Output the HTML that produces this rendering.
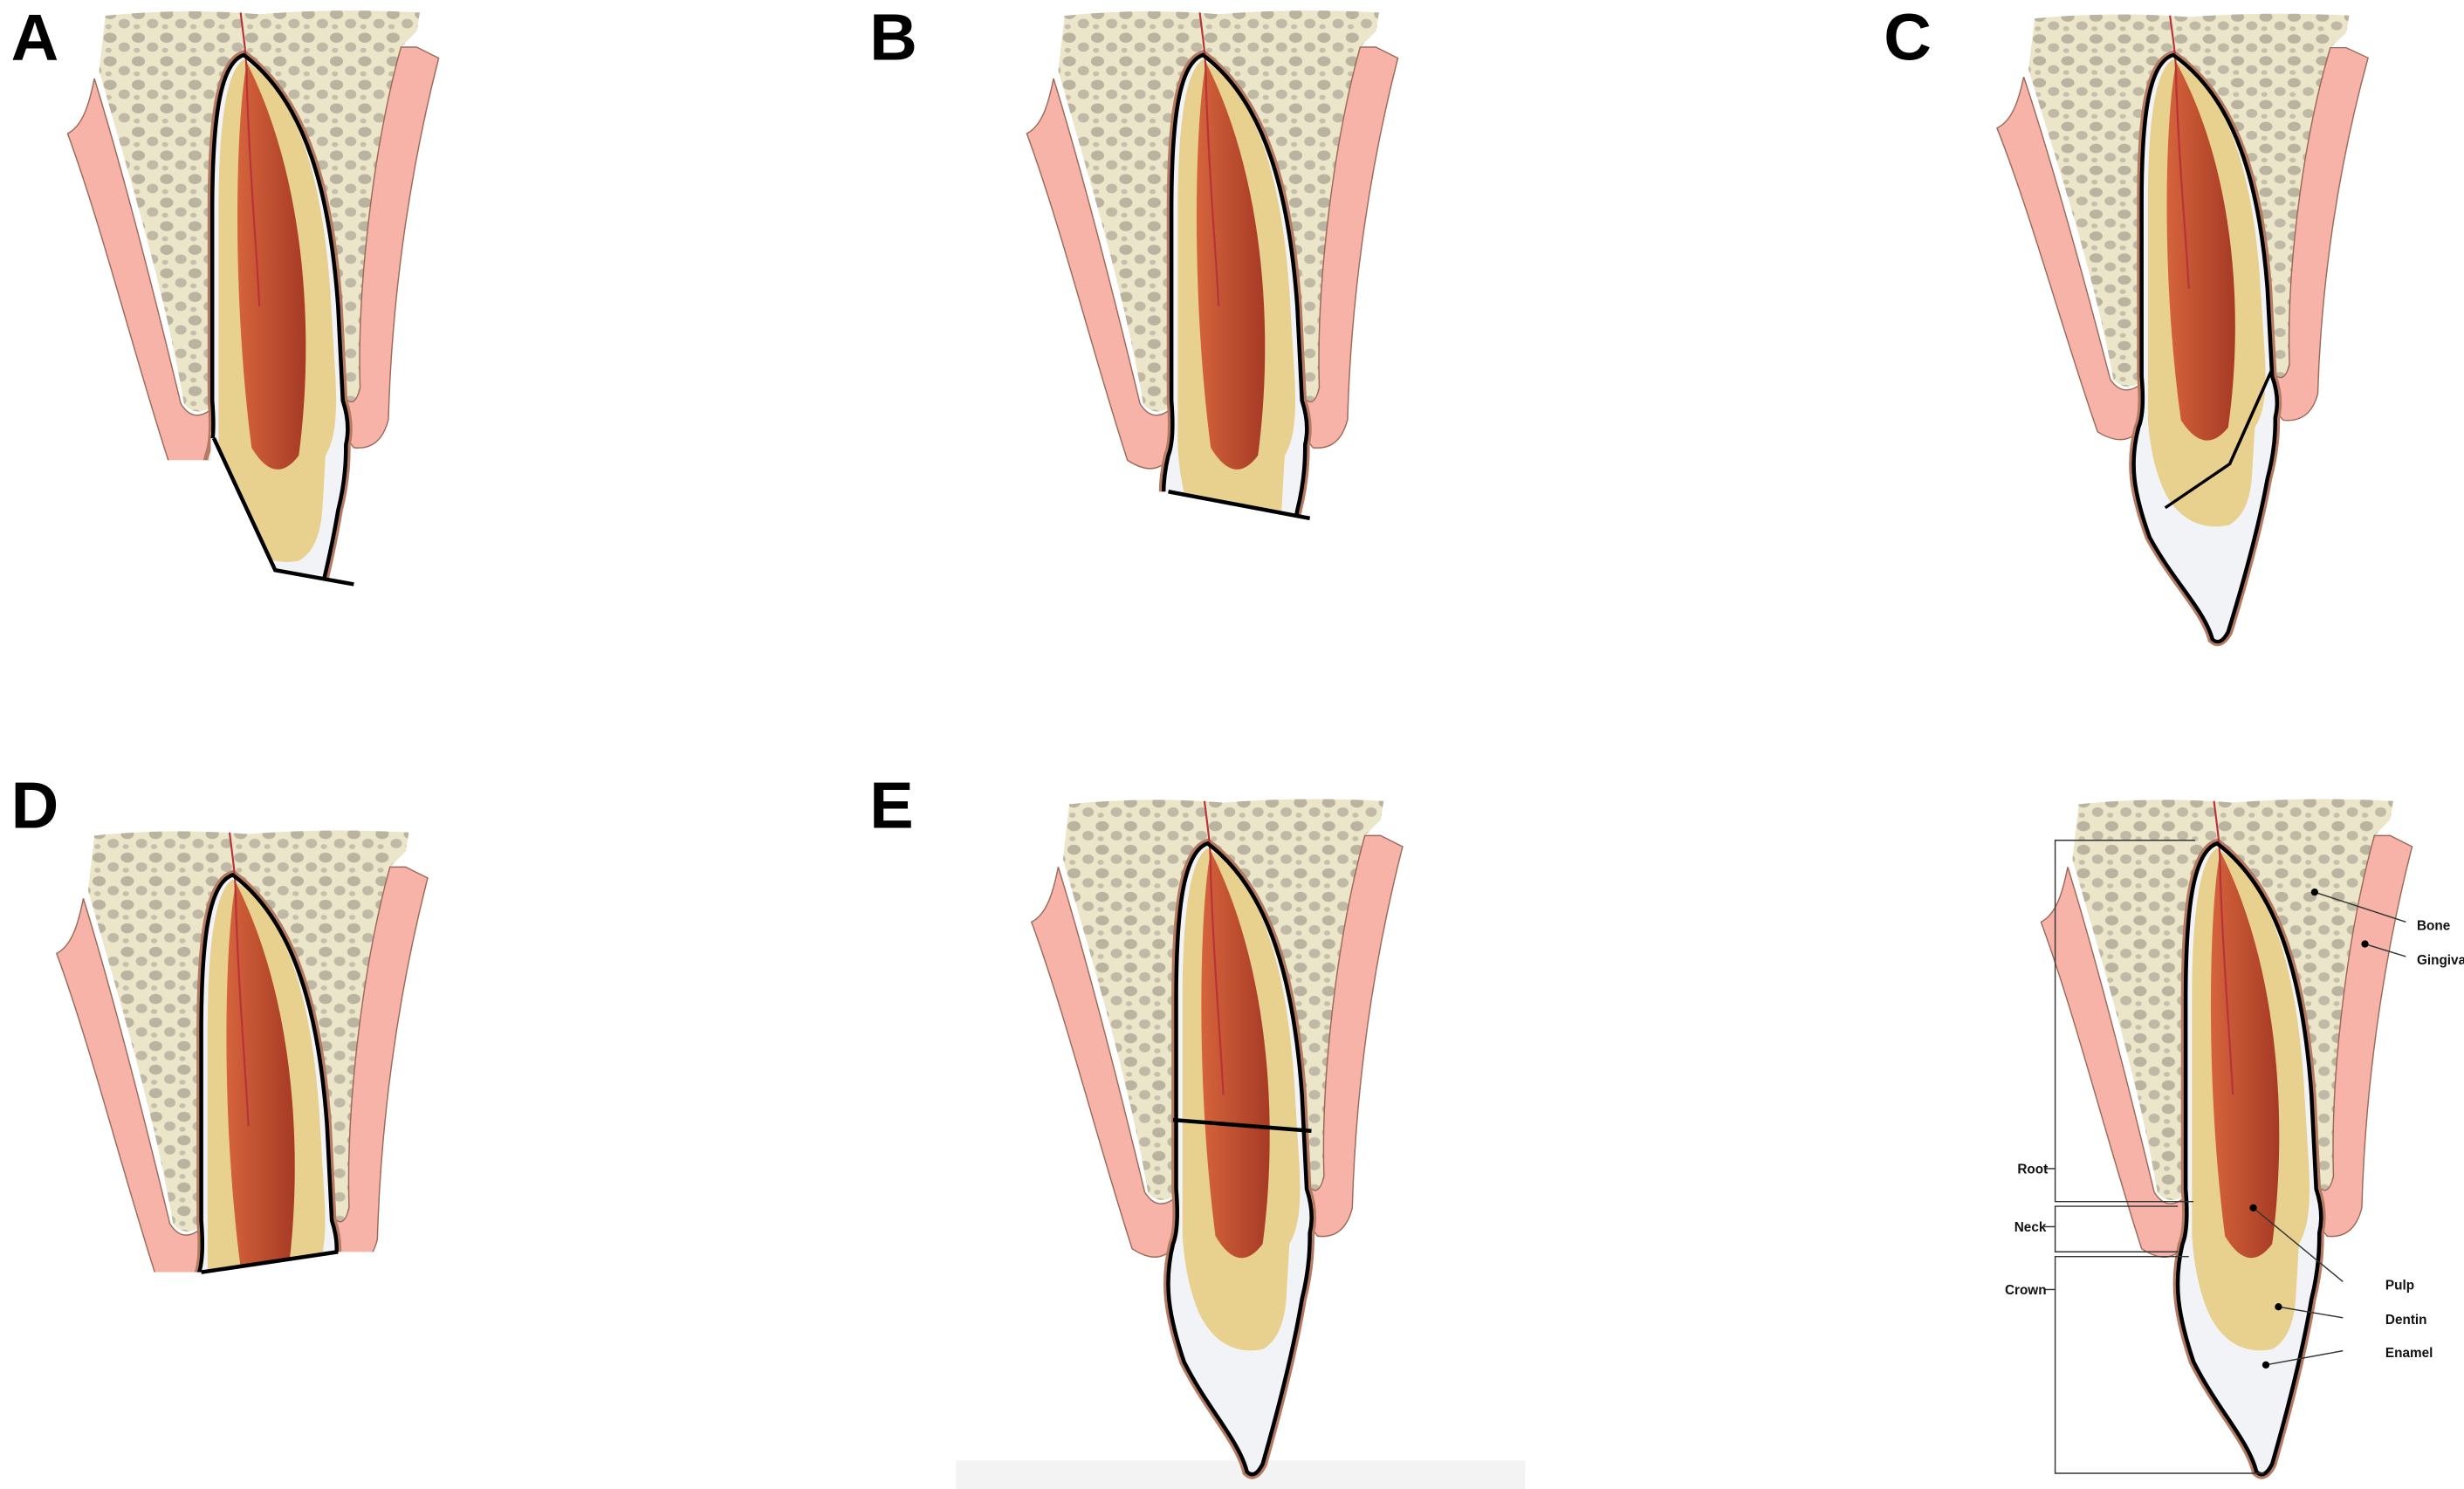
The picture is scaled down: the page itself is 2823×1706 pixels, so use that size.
<!DOCTYPE html>
<html><head><meta charset="utf-8"><style>
html,body{margin:0;padding:0;background:#fff;}
svg{display:block;}
text{font-family:"Liberation Sans",sans-serif;}
</style></head><body>
<svg width="2823" height="1706" viewBox="0 0 1567 948" preserveAspectRatio="none" xmlns="http://www.w3.org/2000/svg">
<defs>
<pattern id="dots" width="18" height="15" patternUnits="userSpaceOnUse">
<rect width="18" height="15" fill="#ebe6ca"/>
<ellipse cx="5" cy="4" rx="4.2" ry="3.2" fill="#bab3a0"/>
<ellipse cx="14" cy="10" rx="3.6" ry="3" fill="#c0b9a5"/>
<ellipse cx="4" cy="12" rx="2" ry="1.6" fill="#c6bfab"/>
</pattern>
<linearGradient id="pulpG" x1="0" x2="1">
<stop offset="0" stop-color="#d5643c"/><stop offset="1" stop-color="#a63a24"/>
</linearGradient>
<path id="outline" d="M0,0 C-15,5 -20,40 -20,100 L-20,220 Q-18,245 -22,255 C-28,280 -25,300 -15,330 C0,360 20,380 25,400 Q30,405 35,395 C45,360 55,320 60,290 C65,270 65,255 65,248 Q68,235 63,220 L60,160 C55,90 40,30 0,0 Z"/>
<g id="anat">
<path d="M-88,-25 Q-40,-30 10,-26 Q60,-30 112,-27 L110,-15 L100,-5 C82,60 72,150 74,212 Q70,228 58,222 L-18,222 Q-30,232 -38,222 C-50,150 -75,70 -92,10 Z" fill="url(#dots)"/>
<path d="M-112,50 C-102,45 -98,30 -95,15 C-75,80 -55,160 -40,222 Q-32,235 -20,225 L-20,255 Q-30,270 -48,258 C-70,190 -90,110 -112,50 Z" fill="#f7b3a8" stroke="#9a6a5a" stroke-width="0.8"/>
<path d="M110,-5 L124,2 C104,80 94,160 92,232 Q87,252 70,250 L62,240 L62,215 Q70,228 74,212 C72,150 82,60 100,-5 Z" fill="#f7b3a8" stroke="#9a6a5a" stroke-width="0.8"/>
<use href="#outline" fill="none" stroke="#b47a62" stroke-width="6"/>
<use href="#outline" fill="#f2f3f7"/>
<path d="M0,3 C-12,10 -16,50 -16,100 L-16,250 Q-14,280 -5,300 C5,320 20,325 35,322 Q48,315 50,290 L52,255 C58,245 60,230 58,200 L55,150 C50,80 35,25 0,3 Z" fill="#e8d08e"/>
<path d="M2,5 C-5,40 -8,150 5,250 Q20,275 35,255 C45,180 40,80 2,5 Z" fill="url(#pulpG)"/>
<path d="M-2,-27 C0,-10 2,0 2,20 C4,80 8,120 10,160" fill="none" stroke="#b8323a" stroke-width="1.2"/>
</g>
</defs>

<g font-weight="bold" font-size="42" fill="#000">
<text x="7" y="38">A</text><text x="553" y="38">B</text><text x="1198" y="38">C</text>
<text x="7" y="527">D</text><text x="553" y="527">E</text>
</g>

<!-- A -->
<clipPath id="cA"><polygon points="-200,-100 200,-100 200,337 70,337 20,328 -17,250 -19,240 -21,240 -21,258 -200,258"/></clipPath>
<clipPath id="cA2"><polygon points="-200,-100 200,-100 200,337 70,337 20,328 -19,244 -200,244"/></clipPath>
<g transform="translate(155,35)">
<g clip-path="url(#cA)"><use href="#anat"/></g>
<g clip-path="url(#cA2)"><use href="#outline" fill="none" stroke="#000" stroke-width="2.5"/></g>
<polyline points="-19,244 20,328 70,337" fill="none" stroke="#000" stroke-width="2.5"/>
</g>
<!-- B -->
<clipPath id="cB"><polygon points="-200,-100 200,-100 200,295 70,295 -20,278 -200,278"/></clipPath>
<g transform="translate(765,35)">
<g clip-path="url(#cB)"><use href="#anat"/><use href="#outline" fill="none" stroke="#000" stroke-width="2.5"/></g>
<line x1="-22" y1="278" x2="68" y2="295" stroke="#000" stroke-width="2.5"/>
</g>
<!-- C -->
<g transform="translate(1382,35) scale(1,0.93)">
<use href="#anat"/><use href="#outline" fill="none" stroke="#000" stroke-width="2.5"/>
<polyline points="-5,310 36,280 63,215" fill="none" stroke="#000" stroke-width="2"/>
</g>
<!-- D -->
<clipPath id="cD"><polygon points="-200,-100 200,-100 200,240 67,240 -18,253 -200,253"/></clipPath>
<g transform="translate(148,557)">
<g clip-path="url(#cD)"><use href="#anat"/><use href="#outline" fill="none" stroke="#000" stroke-width="2.5"/></g>
<line x1="-20" y1="253" x2="67" y2="240" stroke="#000" stroke-width="2.5"/>
</g>
<!-- E -->
<rect x="608" y="930" width="362" height="18" fill="#f3f3f3"/>
<g transform="translate(768,537)">
<use href="#anat"/><use href="#outline" fill="none" stroke="#000" stroke-width="2.5"/>
<line x1="-22" y1="176" x2="66" y2="183" stroke="#000" stroke-width="2.5"/>
</g>
<!-- F -->
<g transform="translate(1410,537)">
<use href="#anat"/><use href="#outline" fill="none" stroke="#000" stroke-width="2.5"/>
</g>
<g fill="none" stroke="#333" stroke-width="0.8">
<polyline points="1396,535 1307,535 1307,765 1395,765"/>
<polyline points="1385,768 1307,768 1307,797 1385,797"/>
<polyline points="1392,800 1307,800 1307,938 1440,938"/>
<line x1="1300" y1="744" x2="1307" y2="744"/>
<line x1="1300" y1="781" x2="1307" y2="781"/>
<line x1="1300" y1="821" x2="1307" y2="821"/>
<line x1="1472" y1="568" x2="1530" y2="587"/>
<line x1="1504" y1="601" x2="1530" y2="609"/>
<line x1="1433" y1="769" x2="1490" y2="816"/>
<line x1="1449" y1="832" x2="1490" y2="839"/>
<line x1="1441" y1="869" x2="1490" y2="860"/>
</g>
<g fill="#000">
<circle cx="1472" cy="568" r="2.3"/><circle cx="1504" cy="601" r="2.3"/>
<circle cx="1433" cy="769" r="2.3"/><circle cx="1449" cy="832" r="2.3"/><circle cx="1441" cy="869" r="2.3"/>
</g>
<g font-size="8.5" font-weight="bold" fill="#111">
<text x="1283" y="747">Root</text><text x="1281" y="784">Neck</text><text x="1275" y="824">Crown</text>
<text x="1537" y="592">Bone</text><text x="1537" y="614">Gingiva</text>
<text x="1517" y="821">Pulp</text><text x="1517" y="843">Dentin</text><text x="1517" y="864">Enamel</text>
</g>
</svg>
</body></html>
